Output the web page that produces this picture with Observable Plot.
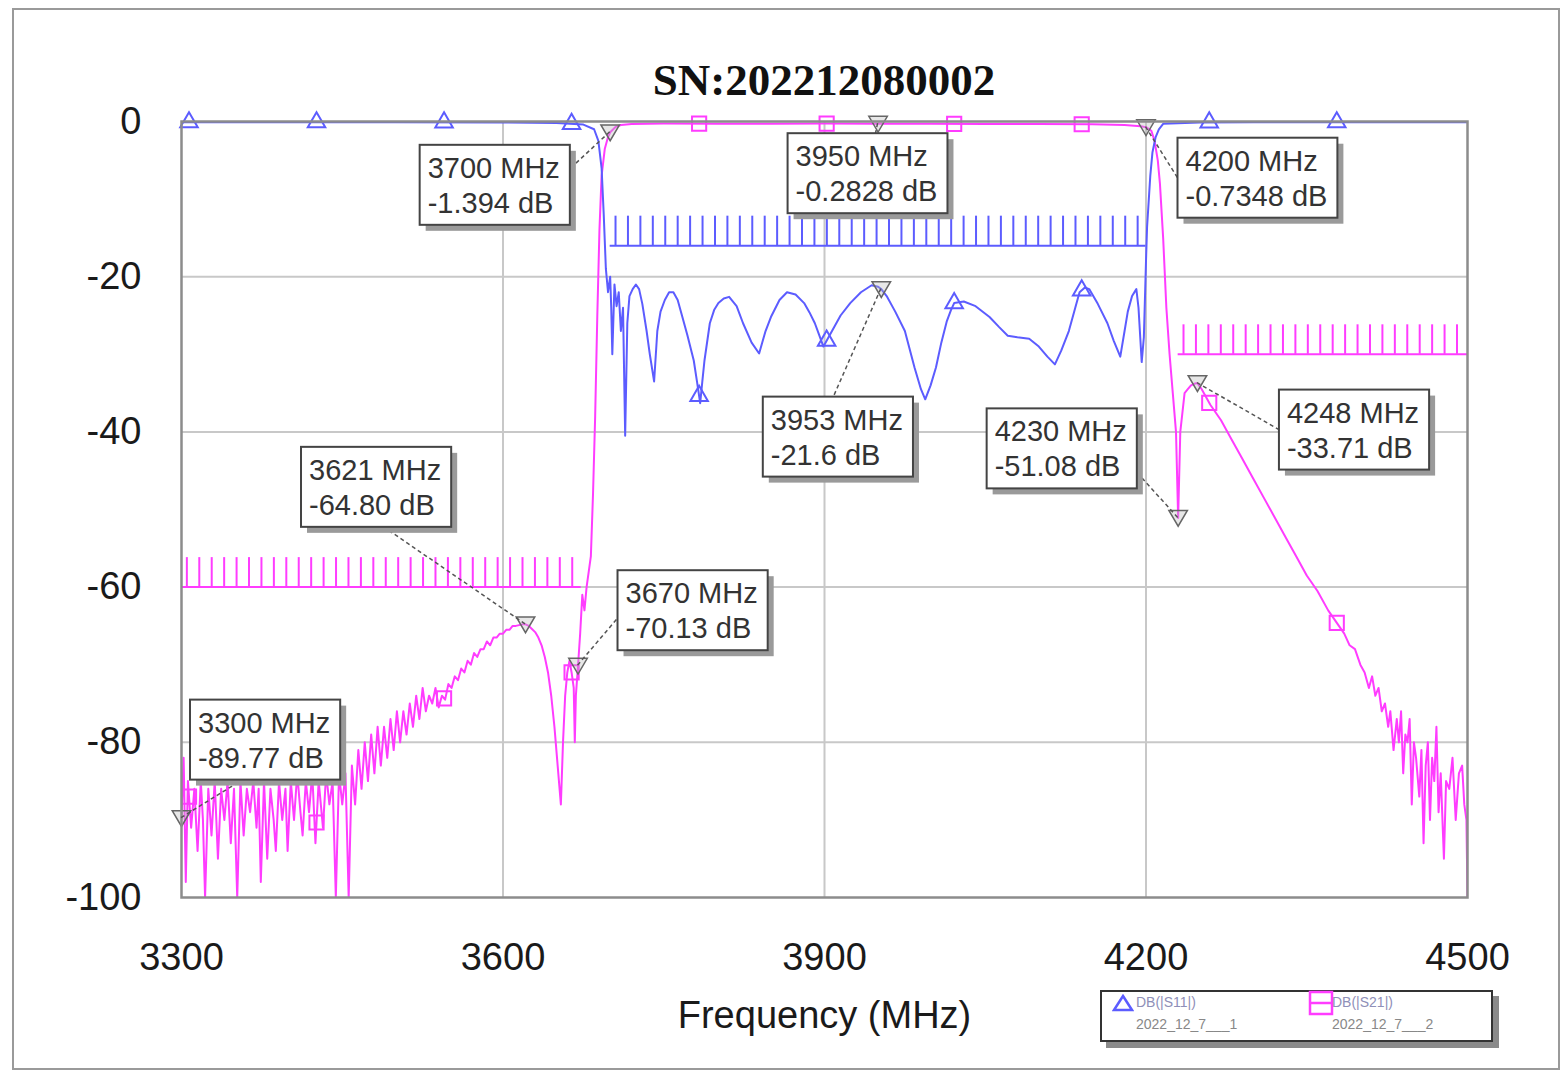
<!DOCTYPE html>
<html><head><meta charset="utf-8">
<script src="https://cdn.jsdelivr.net/npm/d3@7"></script>
<script src="https://cdn.jsdelivr.net/npm/@observablehq/plot@0.6"></script>
<style>
html,body{margin:0;padding:0;background:#fff;}
#wrap{position:relative;width:1566px;height:1073px;overflow:hidden;font-family:"Liberation Sans",Arial,sans-serif;background:#fff;}
#border{position:absolute;left:12px;top:8px;width:1548px;height:1062px;border:2px solid #9a9a9a;box-sizing:border-box;}
#title{position:absolute;left:474px;top:54px;width:700px;text-align:center;font:bold 45px "Liberation Serif","Times New Roman",serif;line-height:52px;color:#111;}
#chart svg{position:absolute;left:0;top:0;}
#legend{position:absolute;left:1100px;top:990px;width:393px;height:52px;border:2px solid #333;background:#fff;box-shadow:6px 6px 0 #8a8a8a;box-sizing:border-box;font-size:14px;}
.l1{position:absolute;top:2px;white-space:nowrap;color:#8f8fb8;}
.l2{position:absolute;top:24px;white-space:nowrap;color:#888;}
</style>
</head><body>
<div id="wrap">
  <div id="border"></div>
  <div id="chart"></div>
  <div id="title"></div>
  <div id="legend"></div>
</div>
<script>
// ---------------- data ----------------
const chartTitle = "SN:202212080002";
const xLabel = "Frequency (MHz)";
const xTicks = [3300, 3600, 3900, 4200, 4500];
const yTicks = [0, -20, -40, -60, -80, -100];

// S11 (blue)
const s11Freq = [3300,3400,3500,3600,3650,3675,3685,3689,3692,3694,3696,3698,3700,3701,3702,3704,3706,3708,3710,3712,3714,3716,3718,3721,3724,3727,3730,3734,3737,3741,3744,3747,3751,3755,3759,3763,3767,3772,3778,3781,3784,3786,3788,3793,3797,3801,3806,3811,3818,3824,3832,3839,3845,3850,3858,3865,3873,3881,3886,3891,3895,3899,3903,3907,3915,3924,3934,3944,3950,3953,3958,3966,3975,3984,3990,3994,3999,4004,4009,4014,4018,4021,4030,4041,4054,4063,4071,4080,4091,4100,4108,4115,4121,4128,4134,4138,4143,4147,4155,4164,4170,4176,4180,4183,4187,4191,4193,4196,4198,4200,4201,4204,4206,4209,4212,4216,4250,4300,4400,4500];
const s11Db = [-0.1,-0.1,-0.1,-0.12,-0.2,-0.4,-1,-2.5,-6,-12,-19,-22,-20,-24,-30,-21,-23.8,-22,-27,-24,-40.5,-26,-22.5,-21.6,-21,-21.6,-23.5,-27,-30,-33.5,-27,-24.5,-23,-22,-22,-23,-25,-27.5,-30.8,-33.5,-36.3,-33.5,-30.8,-26,-24.3,-23.4,-22.8,-22.6,-23.8,-26,-28.5,-29.9,-27,-25.2,-23,-22,-22.3,-23.4,-24.6,-26,-27.5,-29,-28,-27,-25,-23.4,-22,-21.1,-21.3,-21.6,-22.5,-24.5,-27,-31.7,-34.5,-35.8,-34,-31.7,-28.5,-25.8,-24.3,-23.4,-23.2,-23.8,-25.2,-26.5,-27.6,-27.8,-28,-29,-30.3,-31.3,-29.5,-27,-24,-22,-21.4,-21.6,-23.5,-26,-28.3,-30.3,-27,-24.5,-22.5,-21.6,-24,-31,-27.8,-18,-13.6,-7,-4,-2,-1,-0.3,-0.12,-0.1,-0.1,-0.1];

// S21 (magenta)
const s21Freq = [3300,3302,3304,3306,3309,3312,3315,3318,3320,3322,3325,3328,3331,3334,3337,3340,3343,3346,3349,3352,3355,3358,3361,3364,3367,3370,3372,3374,3377,3380,3383,3386,3388,3391,3394,3397,3399,3402,3405,3408,3411,3413,3416,3419,3422,3425,3428,3432,3435,3438,3441,3444,3447,3450,3453,3456,3459,3462,3465,3468,3471,3474,3477,3480,3483,3486,3489,3492,3495,3498,3501,3504,3507,3510,3513,3516,3519,3522,3525,3528,3531,3534,3537,3540,3543,3546,3549,3552,3555,3558,3561,3564,3567,3570,3573,3576,3579,3582,3585,3588,3591,3594,3597,3600,3603,3606,3609,3612,3615,3618,3621,3624,3627,3630,3633,3636,3639,3642,3645,3648,3651,3654,3656,3658,3660,3662,3664,3666,3667,3668,3670,3672,3674,3676,3678,3680,3682,3684,3686,3688,3690,3692,3695,3698,3700,3705,3710,3720,3750,3800,3850,3900,3950,4000,4050,4100,4150,4180,4195,4200,4205,4208,4211,4213,4216,4219,4222,4225,4228,4230,4232,4236,4239,4242,4245,4248,4252,4256,4260,4270,4280,4290,4300,4310,4320,4330,4340,4350,4360,4370,4380,4385,4390,4395,4400,4404,4408,4411,4414,4417,4420,4423,4426,4428,4431,4434,4436,4438,4440,4442,4444,4446,4448,4450,4452,4455,4457,4459,4461,4463,4465,4467,4469,4471,4473,4475,4478,4480,4483,4486,4489,4492,4495,4497,4499,4500];
const s21Db = [-89.77,-82,-98,-85,-91,-86,-94,-85,-90,-100,-86,-92,-85,-95,-86,-90,-85,-93,-86,-100,-85,-92,-86,-89,-85,-91,-86,-98,-85,-95,-86,-90,-94,-85,-90,-86,-94,-85,-90,-84,-89,-92,-85,-89,-84,-93,-85,-91,-84,-88,-85,-100,-84,-88,-84,-100,-83,-88,-81,-86,-80,-85,-79,-84,-78,-83,-78,-82,-77,-81,-76,-80,-76,-79,-75,-78,-74,-77,-73,-76,-74,-75,-73,-75.5,-74,-74.5,-72.5,-73,-71.5,-72,-70.5,-71,-69.5,-70,-68.5,-69,-68,-68,-67,-67.5,-66.5,-66.5,-66,-66,-65.5,-65.5,-65,-65,-64.9,-64.8,-64.8,-65,-65.4,-65.8,-66.5,-67.5,-69,-71,-74,-78,-83,-88,-80,-74,-71,-69.5,-71,-73,-80,-74,-70.13,-66,-61,-63,-60,-58,-56,-48,-38,-25,-14,-7,-3.5,-2,-1.394,-0.7,-0.45,-0.32,-0.27,-0.28,-0.3,-0.27,-0.2828,-0.3,-0.31,-0.33,-0.36,-0.45,-0.6,-0.7348,-1.2,-2.5,-5,-8,-15,-24,-30,-35,-40,-51.08,-40,-35,-34.5,-34,-33.8,-33.71,-34.5,-35.5,-36.5,-38.5,-41,-43.5,-46,-48.5,-51,-53.5,-56,-58.5,-60.5,-63,-65,-66,-67.5,-68,-70,-71,-73,-71.5,-74,-73,-76,-75,-78,-76,-81,-77,-80,-76,-84,-79,-80,-77,-88,-80,-82,-87,-81,-93,-83,-80,-90,-82,-85,-78,-89,-84,-95,-85,-86,-82,-90,-84,-83,-88,-90,-100];

// trace symbols (one every sweep segment)
const symbolFreq = [3307, 3426, 3545, 3664, 3783, 3902, 4021, 4140, 4259, 4378];

// marker readouts
const markerFreq = [3300, 3621, 3670, 3700, 3950, 3953, 4200, 4230, 4248];
const markerDb = [-89.77, -64.80, -70.13, -1.394, -0.2828, -21.6, -0.7348, -51.08, -33.71];
const markerDbText = ["-89.77", "-64.80", "-70.13", "-1.394", "-0.2828", "-21.6", "-0.7348", "-51.08", "-33.71"];

// limit lines
const limitSeries = ["S21", "S11", "S21"];
const limitStart = [3300, 3700, 4230];
const limitEnd = [3673, 4200, 4500];
const limitDb = [-60, -16, -30];

// legend
const legendSeries = ["S11", "S21"];
const legendName = ["DB(|S11|)", "DB(|S21|)"];
const legendSub = ["2022_12_7___1", "2022_12_7___2"];

// ---------------- layout / style ----------------
const FONT = "Liberation Sans, Arial, sans-serif";
const COLOR = {S11: "#5c5cff", S21: "#ff3cff"};
// box offset (px from marker) and leader attach point (fraction of box)
const annOffset = [[9,-118],[-224,-177],[40,-95],[-190,13],[-90,10],[-118,108],[32,11],[-191,-109],[82,7]];
const annAttach = [[0.35,1],[0.55,1],[0,0.6],[1,0.3],[0.55,0],[0.47,0],[0,0.5],[1,0.8],[0,0.5]];
const LIMIT_TICK_STEP = 11.6, LIMIT_TICK_H = 3.8;

// ---------------- build ----------------
const s11 = s11Freq.map((f, i) => ({f, db: s11Db[i]}));
const s21 = s21Freq.map((f, i) => ({f, db: s21Db[i]}));
function at(fs, ds, f) {
  const i = d3.bisectLeft(fs, f);
  if (i <= 0) return ds[0];
  if (i >= fs.length) return ds[ds.length - 1];
  const t = (f - fs[i - 1]) / (fs[i] - fs[i - 1]);
  return ds[i - 1] + t * (ds[i] - ds[i - 1]);
}
const s11Sym = symbolFreq.map(f => ({f, db: at(s11Freq, s11Db, f)}));
const s21Sym = symbolFreq.map(f => ({f, db: at(s21Freq, s21Db, f)}));
const markers = markerFreq.map((f, i) => ({f, db: markerDb[i]}));
const limits = limitSeries.map((s, i) => ({s, f0: limitStart[i], f1: limitEnd[i], db: limitDb[i]}));
const limitTicks = limits.flatMap(l => d3.range(l.f0 + 5, l.f1, LIMIT_TICK_STEP).map(f => ({s: l.s, f, y1: l.db, y2: l.db + LIMIT_TICK_H})));

const invTriangle = {
  draw(ctx, size) {
    const h = Math.sqrt(size) * 0.55;
    ctx.moveTo(-h, -h * 0.8);
    ctx.lineTo(h, -h * 0.8);
    ctx.lineTo(0, h * 0.9);
    ctx.closePath();
  }
};

const chart = Plot.plot({
  width: 1566, height: 1073,
  marginLeft: 181, marginRight: 99, marginTop: 121, marginBottom: 176,
  style: {fontFamily: FONT, fontSize: "38px", color: "#1a1a1a", background: "transparent", overflow: "visible"},
  x: {domain: [3300, 4500]},
  y: {domain: [-100, 0]},
  marks: [
    Plot.gridX({ticks: xTicks.slice(1, -1), stroke: "#c8c8c8", strokeOpacity: 1, strokeWidth: 2}),
    Plot.gridY({ticks: yTicks.slice(1, -1), stroke: "#c8c8c8", strokeOpacity: 1, strokeWidth: 2}),
    Plot.ruleY(limits, {y: "db", x1: "f0", x2: "f1", stroke: d => COLOR[d.s], strokeWidth: 2}),
    Plot.ruleX(limitTicks, {x: "f", y1: "y1", y2: "y2", stroke: d => COLOR[d.s], strokeWidth: 2}),
    Plot.line(s21, {x: "f", y: "db", stroke: COLOR.S21, strokeWidth: 2, clip: true}),
    Plot.line(s11, {x: "f", y: "db", stroke: COLOR.S11, strokeWidth: 2, clip: true}),
    Plot.dot(s11Sym, {x: "f", y: "db", symbol: "triangle", r: 6.5, stroke: COLOR.S11, strokeWidth: 2, fill: "none"}),
    Plot.dot(s21Sym, {x: "f", y: "db", symbol: "square", r: 8, stroke: COLOR.S21, strokeWidth: 2, fill: "none"}),
    Plot.dot(markers, {x: "f", y: "db", symbol: invTriangle, r: 9.5, stroke: "#666", strokeWidth: 1.5, fill: "#bbb", fillOpacity: 0.35}),
    Plot.frame({stroke: "#8c8c8c", strokeWidth: 2.5}),
    Plot.axisX({ticks: xTicks, tickSize: 0, tickPadding: 46, tickFormat: d => String(d), fontSize: 38, label: null}),
    Plot.axisY({ticks: yTicks, tickSize: 0, tickPadding: 40, tickFormat: d => String(d), fontSize: 38, label: null}),
    Plot.text([xLabel], {frameAnchor: "bottom", dy: 130, fontSize: 38, fill: "#1a1a1a"})
  ]
});
document.getElementById("chart").appendChild(chart);
document.getElementById("title").textContent = chartTitle;

// marker readout boxes
const sx = chart.scale("x"), sy = chart.scale("y");
const layer = d3.select(chart).append("g").attr("font-family", FONT).attr("font-size", 29).attr("text-anchor", "start");
markerFreq.forEach((f, i) => {
  const mx = sx.apply(f), my = sy.apply(markerDb[i]);
  const [ox, oy] = annOffset[i];
  const bx = mx + ox, by = my + oy;
  const g = layer.append("g");
  const leader = g.append("line");
  const shadow = g.append("rect");
  const box = g.append("rect");
  const text = g.append("text").attr("fill", "#333").attr("text-anchor", "start");
  text.append("tspan").attr("x", bx + 8).attr("y", by + 33).text(`${f} MHz`);
  text.append("tspan").attr("x", bx + 8).attr("y", by + 68).text(`${markerDbText[i]} dB`);
  const bb = text.node().getBBox();
  const w = bb.width + 18, h = 80;
  shadow.attr("x", bx + 6).attr("y", by + 6).attr("width", w).attr("height", h).attr("fill", "#9a9a9a");
  box.attr("x", bx).attr("y", by).attr("width", w).attr("height", h).attr("fill", "#fff").attr("stroke", "#444").attr("stroke-width", 2);
  const [ax, ay] = annAttach[i];
  leader.attr("x1", mx).attr("y1", my).attr("x2", bx + ax * w).attr("y2", by + ay * h)
    .attr("stroke", "#555").attr("stroke-width", 1.5).attr("stroke-dasharray", "4,3");
});

// legend
const leg = document.getElementById("legend");
legendSeries.forEach((s, i) => {
  const left = i === 0 ? 10 : 206;
  const sym = s === "S11"
    ? `<svg width="22" height="20" style="position:absolute;left:${left}px;top:2px"><path d="M11 2 L20 16 L2 16 Z" fill="none" stroke="${COLOR[s]}" stroke-width="2.5"/></svg>`
    : `<svg width="26" height="26" style="position:absolute;left:${left}px;top:-2px"><rect x="2" y="2" width="22" height="22" fill="none" stroke="${COLOR[s]}" stroke-width="2.5"/><line x1="2" y1="13" x2="24" y2="13" stroke="${COLOR[s]}" stroke-width="2.5"/></svg>`;
  leg.insertAdjacentHTML("beforeend",
    sym + `<div class="l1" style="left:${left + 24}px">${legendName[i]}</div><div class="l2" style="left:${left + 24}px">${legendSub[i]}</div>`);
});
</script>
</body></html>
